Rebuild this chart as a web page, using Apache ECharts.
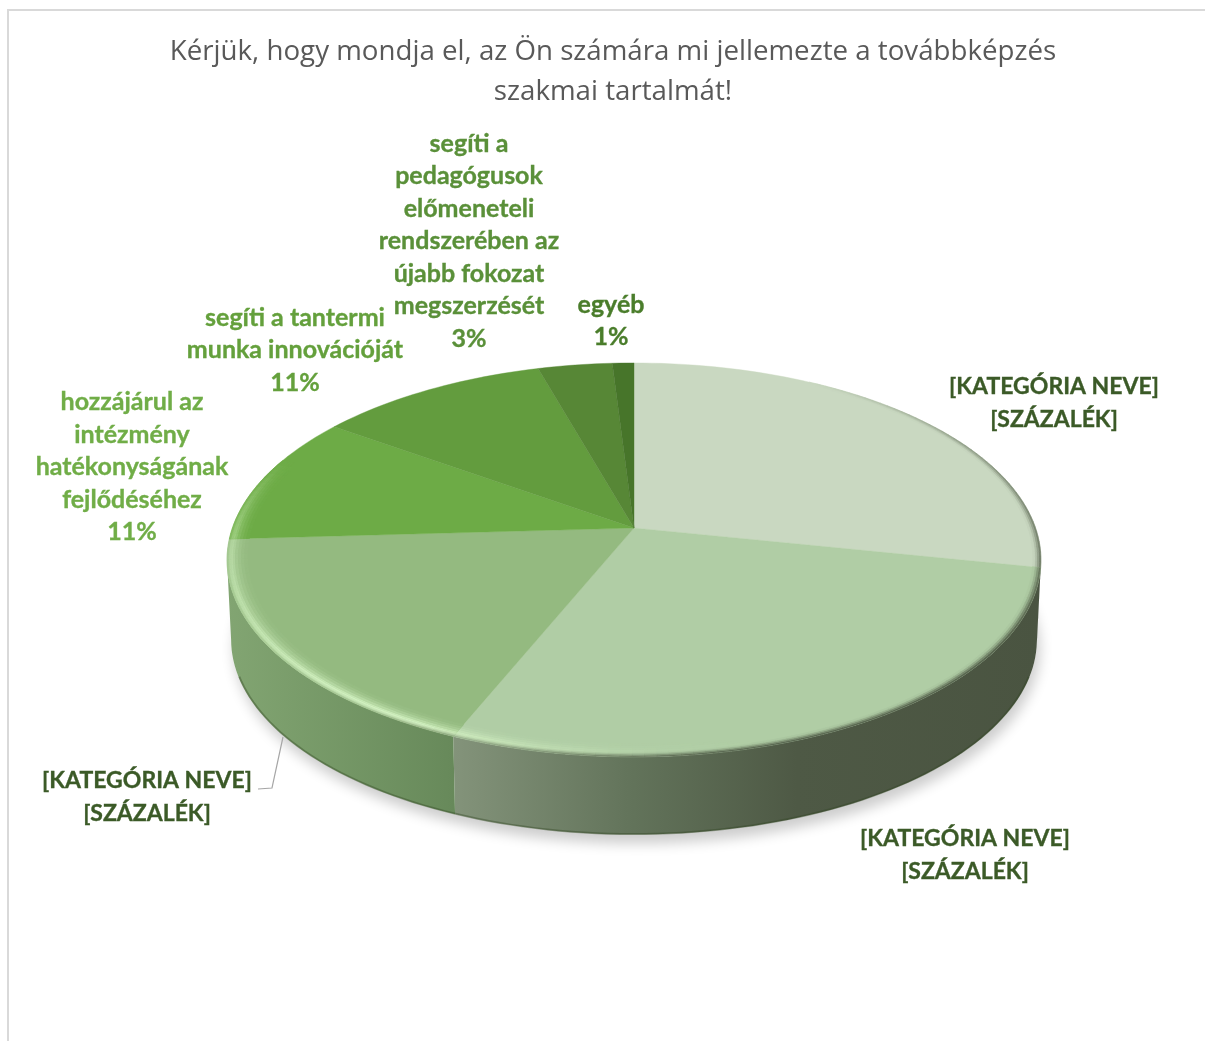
<!DOCTYPE html>
<html><head><meta charset="utf-8">
<style>html,body{margin:0;padding:0;background:#fff}#c{width:1205px;height:1041px}</style>
<script src="https://cdn.jsdelivr.net/npm/echarts@6/dist/echarts.min.js"></script>
</head><body><div id="c"></div>
<script>
// ---- data ----
const titleText = 'Kérjük, hogy mondja el, az Ön számára mi jellemezte a továbbképzés\nszakmai tartalmát!';
const categories = [
  '[KATEGÓRIA NEVE]\n[SZÁZALÉK]',
  '[KATEGÓRIA NEVE]\n[SZÁZALÉK]',
  '[KATEGÓRIA NEVE]\n[SZÁZALÉK]',
  'hozzájárul az\nintézmény\nhatékonyságának\nfejlődéséhez\n11%',
  'segíti a tantermi\nmunka innovációját\n11%',
  'segíti a\npedagógusok\nelőmeneteli\nrendszerében az\nújabb fokozat\nmegszerzését\n3%',
  'egyéb\n1%'
];
const values = [28.2, 28.05, 17.85, 10.7, 10.75, 3.45, 1.0];

// ---- styling and layout ----
const topColors = ['#c9d8c1','#b0cda5','#94ba80','#6dab46','#639c3e','#578736','#47752a'];
const labelColors = ['#3b5a27','#3b5a27','#3b5a27','#70ad47','#64a03c','#5a9039','#4a7d2b'];
const labelAnchors = [[1054,403],[965,855],[147,797],[132,467],[295,350],[469,241],[611,321]];
const labelFonts = ['700 23px Lato','700 23px Lato','700 23px Lato','700 25px Lato','700 25px Lato','700 25px Lato','700 25px Lato'];
const sideStops = [
  [[0,'#4a5441'],[1,'#4a5441']],
  [[0.28,'#83937a'],[0.5,'#62735a'],[0.7,'#4e5945'],[1,'#4a5441']],
  [[0,'#82a572'],[0.28,'#67895a'],[1,'#67895a']],
  [[0,'#82a572'],[1,'#82a572']],
  [[0,'#82a572'],[1,'#82a572']],
  [[0,'#82a572'],[1,'#82a572']],
  [[0,'#82a572'],[1,'#82a572']]
];
const pie = {cx:634, cy:528, a:401.6, b:191.8, p:0.162, drop:80, shrink:0.99, rim:407};

const total = values.reduce((s,v)=>s+v,0);
const starts = []; values.reduce((s,v,i)=>{starts[i]=s; return s+v;},0);
const ang = v => v/total*360;
const tangentA = Math.acos(-pie.p)*180/Math.PI, tangentB = 360-tangentA;

function pt(th, r, bottom){
  const t = th*Math.PI/180, u = r*Math.sin(t), v = -r*Math.cos(t), w = 1-pie.p*v;
  if (bottom) return [pie.cx+pie.shrink*pie.a*u/w, pie.cy+pie.drop+pie.shrink*pie.b*v/w];
  return [pie.cx+pie.a*u/w, pie.cy+pie.b*v/w];
}
function arc(a0,a1,r,bottom){
  const n = Math.max(2,Math.ceil(Math.abs(a1-a0)/1.5)), out=[];
  for(let i=0;i<=n;i++) out.push(pt(a0+(a1-a0)*i/n,r,bottom));
  return out;
}
function hex(c){return [1,3,5].map(i=>parseInt(c.substr(i,2),16));}
function mix(a,b,t){return a.map((x,i)=>x+(b[i]-x)*t);}
function css(c){return 'rgb('+c.map(Math.round).join(',')+')';}
function lerpTable(tab,x){
  if(x<=tab[0][0])return tab[0][1];
  for(let i=1;i<tab.length;i++) if(x<=tab[i][0]){
    const f=(x-tab[i-1][0])/(tab[i][0]-tab[i-1][0]);
    return tab[i-1][1]+(tab[i][1]-tab[i-1][1])*f;
  }
  return tab[tab.length-1][1];
}
const hiTable = [[165,0],[178,0.12],[190,0.5],[207,1],[225,0.85],[245,0.6],[270,0.4],[285,0.15],[292,0]];
const edgeTable = [[30,0],[60,0.5],[100,0.8],[125,1],[170,1],[190,0.6],[215,0.15],[240,0]];
const rings = [[0,2,0.5,0.85],[2,4,0.9,0.55],[4,6,1,0.25],[6,8,0.8,0.05],[8,11,0.5,0],[11,14,0.3,0],[14,17,0.15,0],[17,20,0.05,0]];
const hiColor = hex('#dcfbcb');
const edgeColor = hex('#4a5441');

function sideRender(params){
  const i = params.dataIndex, a0 = starts[i]/total*360, a1 = a0+ang(values[i]);
  const lo = Math.max(a0,tangentA), hi = Math.min(a1,tangentB);
  if(lo>=hi) return null;
  const x0 = pie.cx-pie.rim, x1 = pie.cx+pie.rim;
  const fill = new echarts.graphic.LinearGradient(x0,0,x1,0,
    sideStops[i].map(s=>({offset:s[0],color:s[1]})),true);
  return {type:'polygon',shape:{points:arc(lo,hi,1,false).concat(arc(hi,lo,1,true))},style:{fill:fill}};
}
function shadowRender(params){
  if(params.dataIndex!==0) return null;
  return {type:'polygon',shape:{points:arc(0,360,1,true)},
    style:{fill:'#fff',shadowBlur:13,shadowColor:'rgba(0,0,0,0.2)',shadowOffsetX:3,shadowOffsetY:9}};
}
function edgeRender(params){
  const i = params.dataIndex, a0 = starts[i]/total*360, a1 = a0+ang(values[i]);
  const lo = Math.max(a0,110), hi = Math.min(a1,250);
  if(lo>=hi) return null;
  return {type:'polyline',shape:{points:arc(lo,hi,0.998,true)},
    style:{stroke:'rgba(50,70,35,0.4)',lineWidth:2,fill:null}};
}
function topRender(params){
  const i = params.dataIndex, a0 = starts[i]/total*360, a1 = a0+ang(values[i]);
  const base = hex(topColors[i]);
  const c = [{type:'polygon',shape:{points:[[pie.cx,pie.cy]].concat(arc(a0,a1,1,false))},
    style:{fill:topColors[i],stroke:topColors[i],lineWidth:0.4}}];
  const step = 1.5, n = Math.max(1,Math.ceil((a1-a0)/step));
  for(let k=0;k<n;k++){
    const t0=a0+(a1-a0)*k/n, t1=a0+(a1-a0)*(k+1)/n, mid=(t0+t1)/2;
    const h=lerpTable(hiTable,mid), e=lerpTable(edgeTable,mid);
    if(h<=0&&e<=0) continue;
    rings.forEach(g=>{
      const col = mix(mix(base,hiColor,h*g[2]),edgeColor,e*g[3]);
      if(h*g[2]<=0.004&&e*g[3]<=0.004) return;
      const r0=1-g[0]/pie.rim, r1=1-g[1]/pie.rim, s=css(col);
      c.push({type:'polygon',shape:{points:[pt(t0,r0),pt(t1,r0),pt(t1,r1),pt(t0,r1)]},
        style:{fill:s,stroke:s,lineWidth:0.5}});
    });
  }
  return {type:'group',children:c};
}
function labelRender(params){
  const i = params.dataIndex;
  return {type:'text',style:{text:categories[i],x:labelAnchors[i][0],y:labelAnchors[i][1],
    fill:labelColors[i],stroke:labelColors[i],lineWidth:0.35,font:labelFonts[i],lineHeight:32.5,align:'center',verticalAlign:'middle'}};
}
const seriesData = values.map((v,i)=>({value:v,name:categories[i]}));
function layer(fn,z){return {type:'custom',coordinateSystem:'none',renderItem:fn,data:seriesData,z:z,silent:true,animation:false,clip:false};}

const chart = echarts.init(document.getElementById('c'),null,{renderer:'canvas',width:1205,height:1041});
chart.setOption({
  animation:false,
  backgroundColor:'#fff',
  title:{text:titleText,left:608,top:27,textAlign:'center',
    textStyle:{fontFamily:'Open Sans',fontSize:27.7,fontWeight:400,color:'#595959',lineHeight:40}},
  graphic:[
    {type:'rect',z:0,shape:{x:8,y:10,width:1400,height:1200},style:{fill:null,stroke:'#d9d9d9',lineWidth:2}},
    {type:'polyline',z:10,shape:{points:[[258,789],[272,788],[283,737]]},style:{stroke:'#a6a6a6',lineWidth:1.2,fill:null}}
  ],
  series:[layer(shadowRender,1),layer(sideRender,2),layer(edgeRender,3),layer(topRender,4),layer(labelRender,5)]
});
</script></body></html>
